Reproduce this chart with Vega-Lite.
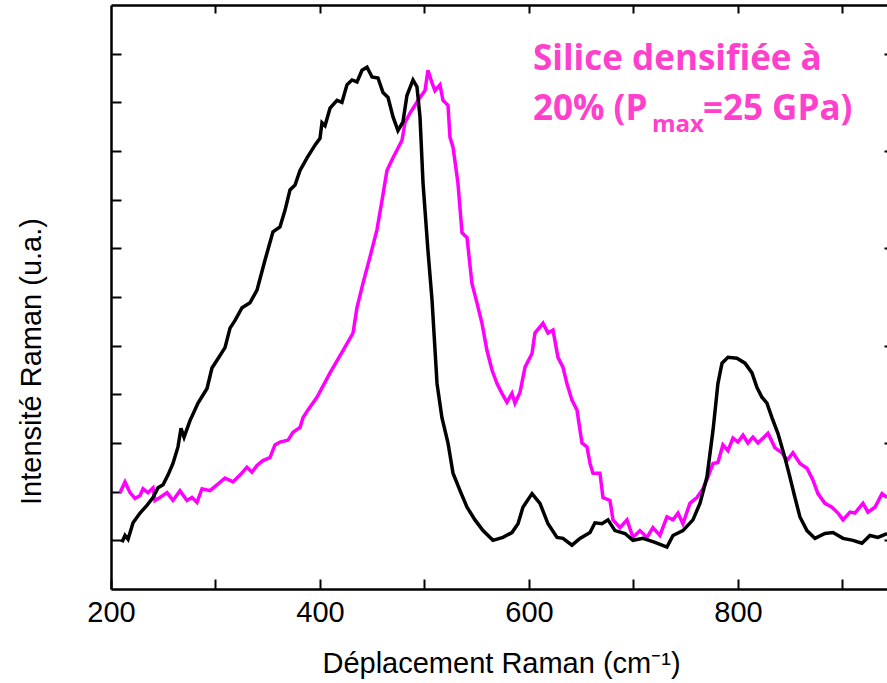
{
  "$schema": "https://vega.github.io/schema/vega-lite/v6.json",
  "width": 776,
  "height": 584,
  "autosize": {"type": "none"},
  "padding": {"left": 111, "top": 5, "right": 0, "bottom": 94},
  "background": "white",
  "config": {"view": {"stroke": null}},
  "datasets": {
    "silice_densifiee": [
      {"shift": 208.6, "intensity": 0.49}, {"shift": 213.4, "intensity": 0.60}, {"shift": 218.2, "intensity": 0.49}, {"shift": 223.0, "intensity": 0.43}, {"shift": 227.8, "intensity": 0.46}, {"shift": 230.6, "intensity": 0.53}, {"shift": 235.4, "intensity": 0.49}, {"shift": 240.2, "intensity": 0.54}, {"shift": 242.1, "intensity": 0.41}, {"shift": 246.9, "intensity": 0.44}, {"shift": 253.6, "intensity": 0.49}, {"shift": 259.3, "intensity": 0.41}, {"shift": 266.0, "intensity": 0.51}, {"shift": 272.7, "intensity": 0.41}, {"shift": 277.5, "intensity": 0.44}, {"shift": 282.3, "intensity": 0.39}, {"shift": 287.1, "intensity": 0.53}, {"shift": 294.7, "intensity": 0.51}, {"shift": 301.4, "intensity": 0.57}, {"shift": 309.1, "intensity": 0.64}, {"shift": 316.7, "intensity": 0.60}, {"shift": 323.4, "intensity": 0.67}, {"shift": 330.1, "intensity": 0.75}, {"shift": 334.9, "intensity": 0.70}, {"shift": 339.7, "intensity": 0.77}, {"shift": 345.4, "intensity": 0.82}, {"shift": 352.1, "intensity": 0.85}, {"shift": 356.9, "intensity": 0.98}, {"shift": 361.7, "intensity": 1.01}, {"shift": 369.4, "intensity": 1.03}, {"shift": 374.2, "intensity": 1.11}, {"shift": 380.9, "intensity": 1.16}, {"shift": 383.7, "intensity": 1.26}, {"shift": 388.5, "intensity": 1.34}, {"shift": 397.1, "intensity": 1.47}, {"shift": 409.6, "intensity": 1.72}, {"shift": 422.0, "intensity": 1.95}, {"shift": 431.6, "intensity": 2.13}, {"shift": 435.4, "intensity": 2.39}, {"shift": 441.1, "intensity": 2.64}, {"shift": 447.8, "intensity": 2.91}, {"shift": 454.5, "intensity": 3.19}, {"shift": 459.3, "intensity": 3.49}, {"shift": 464.1, "intensity": 3.80}, {"shift": 468.9, "intensity": 3.91}, {"shift": 473.7, "intensity": 4.01}, {"shift": 478.5, "intensity": 4.11}, {"shift": 481.3, "intensity": 4.29}, {"shift": 486.1, "intensity": 4.39}, {"shift": 490.9, "intensity": 4.47}, {"shift": 495.7, "intensity": 4.55}, {"shift": 500.5, "intensity": 4.62}, {"shift": 503.3, "intensity": 4.83}, {"shift": 507.2, "intensity": 4.70}, {"shift": 510.0, "intensity": 4.62}, {"shift": 514.8, "intensity": 4.68}, {"shift": 517.7, "intensity": 4.52}, {"shift": 522.5, "intensity": 4.47}, {"shift": 524.4, "intensity": 4.14}, {"shift": 527.3, "intensity": 4.04}, {"shift": 532.0, "intensity": 3.67}, {"shift": 535.9, "intensity": 3.16}, {"shift": 540.7, "intensity": 3.11}, {"shift": 545.4, "intensity": 2.64}, {"shift": 550.2, "intensity": 2.44}, {"shift": 555.0, "intensity": 2.23}, {"shift": 559.8, "intensity": 1.95}, {"shift": 564.6, "intensity": 1.75}, {"shift": 569.4, "intensity": 1.61}, {"shift": 574.1, "intensity": 1.51}, {"shift": 578.9, "intensity": 1.42}, {"shift": 583.7, "intensity": 1.51}, {"shift": 586.6, "intensity": 1.41}, {"shift": 591.4, "intensity": 1.52}, {"shift": 596.2, "intensity": 1.78}, {"shift": 602.9, "intensity": 1.92}, {"shift": 605.7, "intensity": 2.13}, {"shift": 613.4, "intensity": 2.23}, {"shift": 618.2, "intensity": 2.13}, {"shift": 623.0, "intensity": 2.16}, {"shift": 627.7, "intensity": 1.88}, {"shift": 632.5, "intensity": 1.78}, {"shift": 636.3, "intensity": 1.61}, {"shift": 641.1, "intensity": 1.44}, {"shift": 645.9, "intensity": 1.34}, {"shift": 650.7, "intensity": 1.00}, {"shift": 655.5, "intensity": 0.96}, {"shift": 658.4, "intensity": 0.79}, {"shift": 661.2, "intensity": 0.69}, {"shift": 667.9, "intensity": 0.69}, {"shift": 670.8, "intensity": 0.44}, {"shift": 677.5, "intensity": 0.41}, {"shift": 680.4, "intensity": 0.21}, {"shift": 687.1, "intensity": 0.13}, {"shift": 693.8, "intensity": 0.21}, {"shift": 699.5, "intensity": 0.03}, {"shift": 706.2, "intensity": 0.10}, {"shift": 712.9, "intensity": 0.03}, {"shift": 718.6, "intensity": 0.13}, {"shift": 725.3, "intensity": 0.05}, {"shift": 732.0, "intensity": 0.24}, {"shift": 737.8, "intensity": 0.21}, {"shift": 742.6, "intensity": 0.28}, {"shift": 747.3, "intensity": 0.17}, {"shift": 754.0, "intensity": 0.38}, {"shift": 760.7, "intensity": 0.44}, {"shift": 766.5, "intensity": 0.53}, {"shift": 771.3, "intensity": 0.65}, {"shift": 776.1, "intensity": 0.79}, {"shift": 780.8, "intensity": 0.80}, {"shift": 785.6, "intensity": 0.98}, {"shift": 790.4, "intensity": 0.92}, {"shift": 795.2, "intensity": 1.05}, {"shift": 800.0, "intensity": 1.01}, {"shift": 804.8, "intensity": 1.08}, {"shift": 809.5, "intensity": 1.00}, {"shift": 814.3, "intensity": 1.06}, {"shift": 819.1, "intensity": 1.00}, {"shift": 823.9, "intensity": 1.05}, {"shift": 828.7, "intensity": 1.10}, {"shift": 835.4, "intensity": 0.95}, {"shift": 842.1, "intensity": 0.90}, {"shift": 846.9, "intensity": 0.82}, {"shift": 852.6, "intensity": 0.90}, {"shift": 859.3, "intensity": 0.79}, {"shift": 866.0, "intensity": 0.74}, {"shift": 871.7, "intensity": 0.62}, {"shift": 876.5, "intensity": 0.48}, {"shift": 883.2, "intensity": 0.38}, {"shift": 889.9, "intensity": 0.34}, {"shift": 895.7, "intensity": 0.28}, {"shift": 900.5, "intensity": 0.21}, {"shift": 907.2, "intensity": 0.29}, {"shift": 911.9, "intensity": 0.28}, {"shift": 919.6, "intensity": 0.38}, {"shift": 924.4, "intensity": 0.29}, {"shift": 931.1, "intensity": 0.34}, {"shift": 937.8, "intensity": 0.48}, {"shift": 942.6, "intensity": 0.44}
    ],
    "silice_reference": [
      {"shift": 210.5, "intensity": -0.02}, {"shift": 213.4, "intensity": 0.05}, {"shift": 216.3, "intensity": 0.01}, {"shift": 221.1, "intensity": 0.18}, {"shift": 227.8, "intensity": 0.28}, {"shift": 234.4, "intensity": 0.36}, {"shift": 240.2, "intensity": 0.44}, {"shift": 245.0, "intensity": 0.54}, {"shift": 249.8, "intensity": 0.57}, {"shift": 254.5, "intensity": 0.67}, {"shift": 259.3, "intensity": 0.79}, {"shift": 264.1, "intensity": 0.96}, {"shift": 267.0, "intensity": 1.15}, {"shift": 269.9, "intensity": 1.06}, {"shift": 275.6, "intensity": 1.23}, {"shift": 283.3, "intensity": 1.41}, {"shift": 291.9, "intensity": 1.56}, {"shift": 296.6, "intensity": 1.77}, {"shift": 301.4, "intensity": 1.85}, {"shift": 309.1, "intensity": 1.98}, {"shift": 313.9, "intensity": 2.18}, {"shift": 318.7, "intensity": 2.26}, {"shift": 325.4, "intensity": 2.39}, {"shift": 333.0, "intensity": 2.44}, {"shift": 339.7, "intensity": 2.57}, {"shift": 347.4, "intensity": 2.88}, {"shift": 355.0, "intensity": 3.17}, {"shift": 361.7, "intensity": 3.22}, {"shift": 366.5, "intensity": 3.39}, {"shift": 371.3, "intensity": 3.60}, {"shift": 376.1, "intensity": 3.65}, {"shift": 380.9, "intensity": 3.80}, {"shift": 387.6, "intensity": 3.93}, {"shift": 395.2, "intensity": 4.06}, {"shift": 400.0, "intensity": 4.13}, {"shift": 401.9, "intensity": 4.29}, {"shift": 404.8, "intensity": 4.26}, {"shift": 409.6, "intensity": 4.44}, {"shift": 416.3, "intensity": 4.52}, {"shift": 421.0, "intensity": 4.50}, {"shift": 425.8, "intensity": 4.68}, {"shift": 430.6, "intensity": 4.73}, {"shift": 435.4, "intensity": 4.71}, {"shift": 440.2, "intensity": 4.83}, {"shift": 445.0, "intensity": 4.86}, {"shift": 449.8, "intensity": 4.76}, {"shift": 455.5, "intensity": 4.75}, {"shift": 460.3, "intensity": 4.60}, {"shift": 465.1, "intensity": 4.55}, {"shift": 469.9, "intensity": 4.35}, {"shift": 474.6, "intensity": 4.21}, {"shift": 479.4, "intensity": 4.30}, {"shift": 483.2, "intensity": 4.57}, {"shift": 489.0, "intensity": 4.73}, {"shift": 492.8, "intensity": 4.66}, {"shift": 495.7, "intensity": 4.35}, {"shift": 498.6, "intensity": 3.67}, {"shift": 503.3, "intensity": 2.98}, {"shift": 507.2, "intensity": 2.47}, {"shift": 512.0, "intensity": 1.61}, {"shift": 516.7, "intensity": 1.26}, {"shift": 522.5, "intensity": 1.00}, {"shift": 527.3, "intensity": 0.69}, {"shift": 534.0, "intensity": 0.51}, {"shift": 540.7, "intensity": 0.34}, {"shift": 548.3, "intensity": 0.21}, {"shift": 556.0, "intensity": 0.10}, {"shift": 565.5, "intensity": 0.00}, {"shift": 575.1, "intensity": 0.03}, {"shift": 583.7, "intensity": 0.08}, {"shift": 589.5, "intensity": 0.17}, {"shift": 594.2, "intensity": 0.34}, {"shift": 602.9, "intensity": 0.48}, {"shift": 610.5, "intensity": 0.38}, {"shift": 618.2, "intensity": 0.17}, {"shift": 626.8, "intensity": 0.03}, {"shift": 632.5, "intensity": 0.02}, {"shift": 641.1, "intensity": -0.05}, {"shift": 648.8, "intensity": 0.02}, {"shift": 658.4, "intensity": 0.08}, {"shift": 663.1, "intensity": 0.18}, {"shift": 669.8, "intensity": 0.17}, {"shift": 675.6, "intensity": 0.21}, {"shift": 682.3, "intensity": 0.10}, {"shift": 691.9, "intensity": 0.07}, {"shift": 699.5, "intensity": 0.00}, {"shift": 709.1, "intensity": 0.02}, {"shift": 720.6, "intensity": -0.02}, {"shift": 732.0, "intensity": -0.07}, {"shift": 737.8, "intensity": 0.05}, {"shift": 747.3, "intensity": 0.10}, {"shift": 756.9, "intensity": 0.21}, {"shift": 763.6, "intensity": 0.38}, {"shift": 770.3, "intensity": 0.65}, {"shift": 776.1, "intensity": 1.13}, {"shift": 780.8, "intensity": 1.61}, {"shift": 784.7, "intensity": 1.82}, {"shift": 790.4, "intensity": 1.88}, {"shift": 799.0, "intensity": 1.87}, {"shift": 806.7, "intensity": 1.82}, {"shift": 813.4, "intensity": 1.72}, {"shift": 818.2, "intensity": 1.57}, {"shift": 822.9, "intensity": 1.47}, {"shift": 827.7, "intensity": 1.41}, {"shift": 832.5, "intensity": 1.26}, {"shift": 838.2, "intensity": 1.10}, {"shift": 844.9, "intensity": 0.85}, {"shift": 849.7, "intensity": 0.65}, {"shift": 854.5, "intensity": 0.44}, {"shift": 859.3, "intensity": 0.24}, {"shift": 866.0, "intensity": 0.10}, {"shift": 873.7, "intensity": 0.02}, {"shift": 883.2, "intensity": 0.07}, {"shift": 890.9, "intensity": 0.08}, {"shift": 900.5, "intensity": 0.02}, {"shift": 910.0, "intensity": 0.00}, {"shift": 918.6, "intensity": -0.03}, {"shift": 926.3, "intensity": 0.05}, {"shift": 933.9, "intensity": 0.03}, {"shift": 942.6, "intensity": 0.07}
    ],
    "annotation": [
      {"label": "Silice densifiée à", "shift": 603.8, "intensity": 4.83},
      {"label": "20% (P", "shift": 603.8, "intensity": 4.32},
      {"label": "=25 GPa)", "shift": 766.5, "intensity": 4.32}
    ],
    "annotation_sub": [
      {"label": "max", "shift": 717.7, "intensity": 4.20}
    ]
  },
  "layer": [
    {
      "data": {"name": "silice_densifiee"},
      "mark": {"type": "line", "color": "#ff00ff", "strokeWidth": 3.5, "clip": true},
      "encoding": {
        "x": {"field": "shift", "type": "quantitative",
          "scale": {"domain": [200, 942.6], "nice": false, "zero": false},
          "axis": {"orient": "top", "title": null, "labels": false, "values": [300, 400, 500, 600, 700, 800, 900],
            "tickSize": -8, "tickWidth": 2, "tickColor": "black", "domain": true, "domainColor": "black", "domainWidth": 2.5, "grid": false}},
        "y": {"field": "intensity", "type": "quantitative",
          "scale": {"domain": [-0.5, 5.5], "nice": false, "zero": false},
          "axis": {"orient": "right", "title": null, "labels": false, "values": [0, 1, 2, 3, 4, 5],
            "tickSize": -3, "tickWidth": 2, "tickColor": "black", "domain": false, "grid": false}}
      }
    },
    {
      "data": {"name": "silice_reference"},
      "mark": {"type": "line", "color": "black", "strokeWidth": 3.5, "clip": true},
      "encoding": {
        "x": {"field": "shift", "type": "quantitative",
          "scale": {"domain": [200, 942.6], "nice": false, "zero": false},
          "axis": {"orient": "bottom", "title": "Déplacement Raman (cm⁻¹)", "values": [200, 300, 400, 500, 600, 700, 800, 900],
            "labelExpr": "datum.value % 200 == 0 ? datum.label : ''",
            "tickSize": -10, "tickWidth": 2, "tickColor": "black", "domain": true, "domainColor": "black", "domainWidth": 2.5, "grid": false,
            "labelFont": "Liberation Sans", "labelFontSize": 29, "labelColor": "black", "labelPadding": 42, "labelBaseline": "alphabetic", "labelFlush": false,
            "titleFont": "Liberation Sans", "titleFontSize": 29, "titleFontWeight": "normal", "titleColor": "black",
            "titleBaseline": "alphabetic", "titleY": 83, "titleX": 390}},
        "y": {"field": "intensity", "type": "quantitative",
          "scale": {"domain": [-0.5, 5.5], "nice": false, "zero": false},
          "axis": {"orient": "left", "title": "Intensité Raman (u.a.)", "labels": false, "values": [0, 0.5, 1, 1.5, 2, 2.5, 3, 3.5, 4, 4.5, 5],
            "tickSize": -10, "tickWidth": 2, "tickColor": "black", "domain": true, "domainColor": "black", "domainWidth": 2.5, "grid": false,
            "titleFont": "Liberation Sans", "titleFontSize": 29, "titleFontWeight": "normal", "titleColor": "black",
            "titleAngle": 270, "titleAlign": "center", "titleBaseline": "alphabetic", "titleX": -71, "titleY": 356}}
      }
    },
    {
      "data": {"name": "annotation"},
      "mark": {"type": "text", "font": "Open Sans", "fontWeight": "bold", "fontSize": 35, "color": "#ff40cc", "align": "left", "baseline": "alphabetic"},
      "encoding": {
        "x": {"field": "shift", "type": "quantitative", "scale": {"domain": [200, 942.6], "nice": false, "zero": false}, "axis": null},
        "y": {"field": "intensity", "type": "quantitative", "scale": {"domain": [-0.5, 5.5], "nice": false, "zero": false}, "axis": null},
        "text": {"field": "label"}
      }
    },
    {
      "data": {"name": "annotation_sub"},
      "mark": {"type": "text", "font": "Open Sans", "fontWeight": "bold", "fontSize": 24, "color": "#ff40cc", "align": "left", "baseline": "alphabetic"},
      "encoding": {
        "x": {"field": "shift", "type": "quantitative", "scale": {"domain": [200, 942.6], "nice": false, "zero": false}, "axis": null},
        "y": {"field": "intensity", "type": "quantitative", "scale": {"domain": [-0.5, 5.5], "nice": false, "zero": false}, "axis": null},
        "text": {"field": "label"}
      }
    }
  ]
}
